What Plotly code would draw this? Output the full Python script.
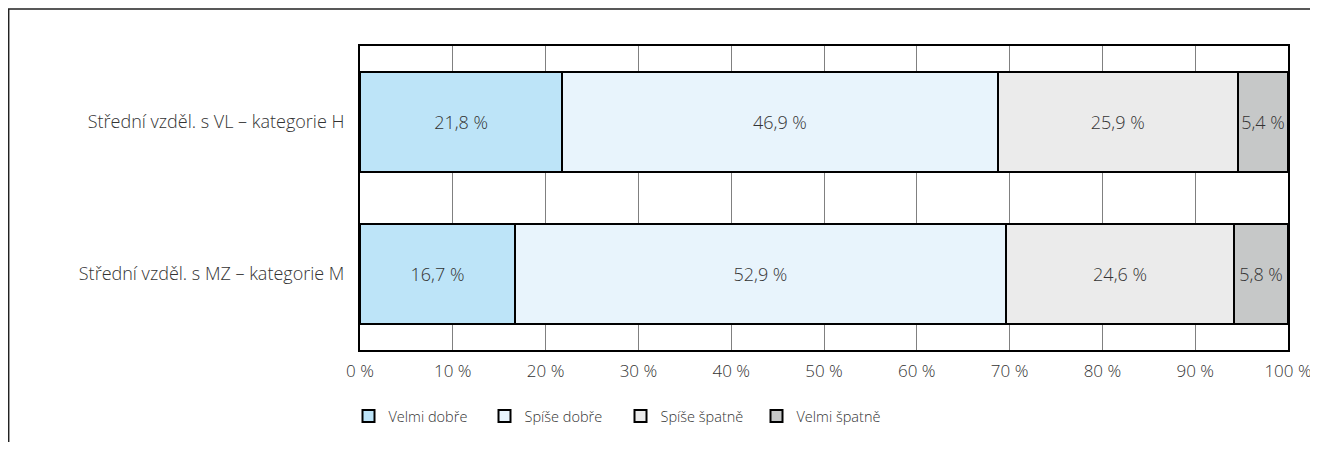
import plotly.graph_objects as go

categories = ["Střední vzděl. s VL – kategorie H", "Střední vzděl. s MZ – kategorie M"]
series_names = ["Velmi dobře", "Spíše dobře", "Spíše špatně", "Velmi špatně"]
velmi_dobre = [21.8, 16.7]
spise_dobre = [46.9, 52.9]
spise_spatne = [25.9, 24.6]
velmi_spatne = [5.4, 5.8]
tick_vals = [0, 10, 20, 30, 40, 50, 60, 70, 80, 90, 100]
tick_text = [f"{v} %" for v in tick_vals]

colors = ["#bde4f8", "#e8f4fc", "#ebebeb", "#c6c8c8"]
series = [velmi_dobre, spise_dobre, spise_spatne, velmi_spatne]

FONT = "Open Sans"
TXT = "#333333"
FS = 18
TFS = 17
LFS = 14.5

OFF = 8  # page body margin
W, H = 1318 - OFF, 450 - 2 * OFF
# screen coordinates of plot area
SX0, SX1, SY0, SY1 = 359.5, 1288, 46, 350
L, R, T, B = SX0 - OFF, (W + OFF) - SX1, SY0 - OFF, (H + OFF) - SY1
pw = W - L - R
ph = H - T - B

def px_x(x):
    return (x - SX0) / pw

def px_y(y):
    return (SY1 - y) / ph

fig = go.Figure()
for name, vals, col in zip(series_names, series, colors):
    fig.add_trace(go.Bar(
        y=categories, x=vals, name=name, orientation="h",
        marker=dict(color=col, line=dict(color="#000000", width=2)),
        text=[f"{v:.1f}".replace(".", ",") + " %" for v in vals],
        textposition="inside", insidetextanchor="middle", textangle=0,
        textfont=dict(family=FONT, size=FS, color=TXT, weight=300),
        width=0.66,
    ))

fig.update_layout(
    barmode="stack",
    width=W, height=H,
    margin=dict(l=L, r=R, t=T, b=B, pad=0, autoexpand=False),
    paper_bgcolor="white", plot_bgcolor="white",
    font=dict(family=FONT, size=FS, color=TXT, weight=300),
    uniformtext=dict(minsize=FS, mode="show"),
    showlegend=True,
    legend=dict(
        orientation="h", x=px_x(348), xanchor="left", y=px_y(416), yanchor="middle",
        font=dict(family=FONT, size=LFS, color=TXT, weight=300),
        entrywidth=91, entrywidthmode="pixels",
        traceorder="normal",
    ),
    xaxis=dict(
        range=[0, 100], tickvals=tick_vals, ticktext=tick_text,
        showgrid=True, gridcolor="#808080", gridwidth=1,
        showline=True, linecolor="#000000", linewidth=2, mirror=True,
        ticks="", zeroline=False, ticklabelstandoff=5, automargin=False,
        tickfont=dict(family=FONT, size=TFS, color=TXT, weight=300),
    ),
    yaxis=dict(
        autorange="reversed", automargin=False,
        showline=True, linecolor="#000000", linewidth=2, mirror=True,
        ticks="", showgrid=False, ticklabelstandoff=10,
        tickfont=dict(family=FONT, size=FS, color=TXT, weight=300),
    ),
    shapes=[dict(
        type="rect", xref="paper", yref="paper",
        x0=px_x(8), x1=px_x(1340), y0=px_y(470), y1=px_y(9),
        line=dict(color="#222222", width=1.5), fillcolor="rgba(0,0,0,0)", layer="below",
    )],
)

fig.write_html("out.html")
